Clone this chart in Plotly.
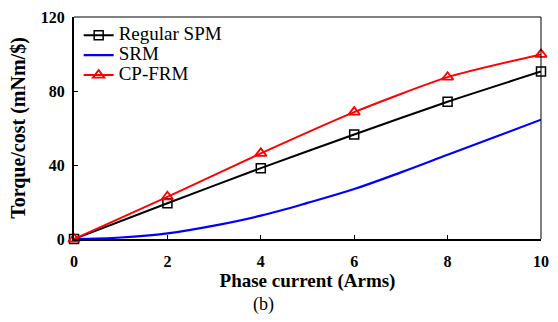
import plotly.graph_objects as go

x_pts = [0, 2, 4, 6, 8, 10]
spm_vals = [0, 19.3, 38.3, 56.5, 74.2, 90.5]
frm_vals = [0, 22.8, 46.3, 68.6, 87.5, 99.8]
srm_x = [0, 1, 2, 3, 4, 5, 6, 7, 8, 9, 10]
srm_vals = [0, 0.8, 3.0, 7.2, 12.6, 19.5, 27.0, 36.0, 45.5, 55.0, 64.5]
series_names = ["Regular SPM", "SRM", "CP-FRM"]

x_ticks = [0, 2, 4, 6, 8, 10]
y_ticks = [0, 40, 80, 120]

FONT = "Liberation Serif"


def lg(name):
    return '<span style="font-size:19px">' + name + '</span>'


fig = go.Figure()
fig.add_trace(go.Scatter(
    x=srm_x, y=srm_vals, name=lg(series_names[1]), mode="lines",
    line=dict(color="#0000ff", width=2.2, shape="spline"),
    legendrank=2,
))
fig.add_trace(go.Scatter(
    x=x_pts, y=spm_vals, name=lg(series_names[0]), mode="lines+markers",
    line=dict(color="black", width=2, shape="spline", smoothing=0.6),
    marker=dict(symbol="square-open", size=9, color="black", line=dict(width=1.5)),
    cliponaxis=False, legendrank=1,
))
fig.add_trace(go.Scatter(
    x=x_pts, y=frm_vals, name=lg(series_names[2]), mode="lines+markers",
    line=dict(color="#ff0000", width=2, shape="spline", smoothing=0.6),
    marker=dict(symbol="triangle-up-open", size=10, color="#ff0000", line=dict(width=1.8)),
    cliponaxis=False, legendrank=3,
))

fig.update_layout(
    width=558, height=322,
    margin=dict(l=74, r=9, t=11, b=83),
    plot_bgcolor="white", paper_bgcolor="white",
    font=dict(family=FONT, color="black"),
    showlegend=True,
    legend=dict(
        x=0.01, y=0.985, xanchor="left", yanchor="top",
        font=dict(family=FONT, size=13, color="black"),
        bgcolor="rgba(0,0,0,0)", tracegroupgap=0,
        itemwidth=30, traceorder="normal",
    ),
    xaxis=dict(
        range=[0, 10], tickvals=x_ticks, ticktext=[str(v) for v in x_ticks],
        showgrid=False, zeroline=False,
        showline=True, linecolor="black", linewidth=2, mirror=False,
        ticks="inside", ticklen=4, tickwidth=1, tickcolor="black",
        ticklabelstandoff=7,
        tickfont=dict(family=FONT, size=16, color="black", weight="bold"),
        title=dict(text="Phase current (Arms)", standoff=2,
                   font=dict(family=FONT, size=19, color="black", weight="bold")),
    ),
    yaxis=dict(
        range=[0, 120], tickvals=y_ticks, ticktext=[str(v) for v in y_ticks],
        showgrid=False, zeroline=False,
        showline=True, linecolor="black", linewidth=2, mirror=False,
        ticks="inside", ticklen=4, tickwidth=1, tickcolor="black",
        ticklabelstandoff=4,
        tickfont=dict(family=FONT, size=16, color="black", weight="bold"),
        title=dict(text="Torque/cost (mNm/$)", standoff=10,
                   font=dict(family=FONT, size=20, color="black", weight="bold")),
    ),
)

# thin top and right frame
fig.add_shape(type="line", xref="paper", yref="paper", x0=0, x1=1, y0=1, y1=1,
              line=dict(color="black", width=1))
fig.add_shape(type="line", xref="paper", yref="paper", x0=1, x1=1, y0=0, y1=1,
              line=dict(color="black", width=1))

fig.add_annotation(text="(b)", xref="paper", yref="paper", x=0.405, y=-0.24,
                   xanchor="center", yanchor="top", showarrow=False,
                   font=dict(family=FONT, size=18, color="black"))

fig.write_html("out.html")
